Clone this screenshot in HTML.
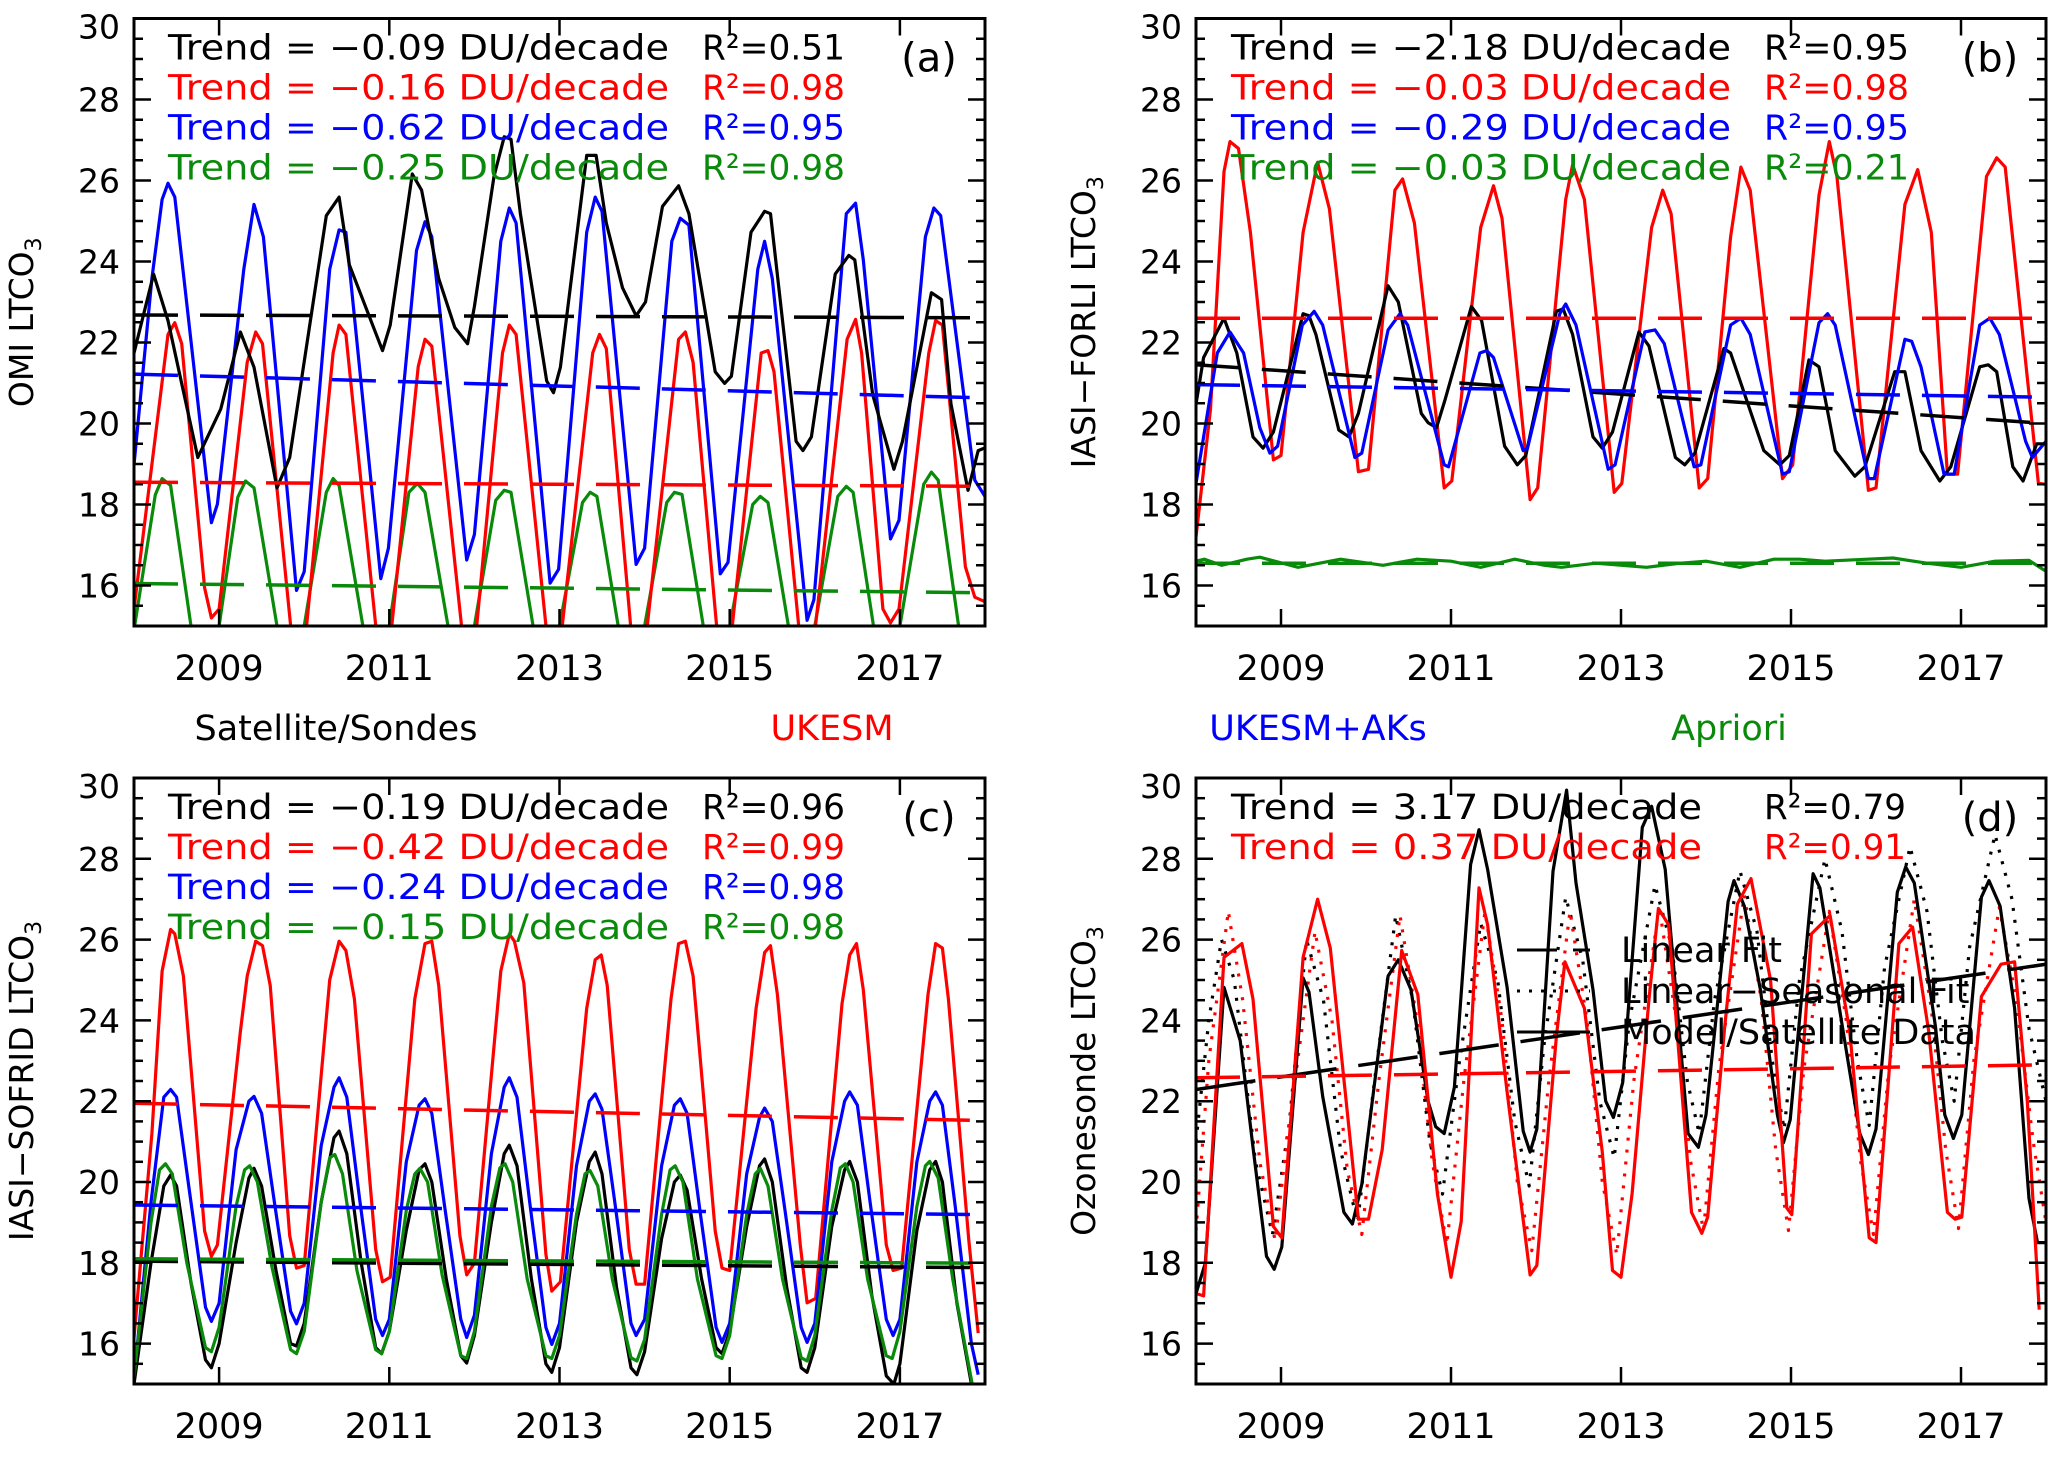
<!DOCTYPE html>
<html><head><meta charset="utf-8"><style>
html,body{margin:0;padding:0;background:#fff;}
svg{display:block;font-family:"DejaVu Sans","Liberation Sans",sans-serif;}
</style></head><body>
<svg id="fig" width="2067" height="1458" viewBox="0 0 2067 1458" xmlns="http://www.w3.org/2000/svg"></svg>
<script>
// ---------- DATA ----------
const years = [2009, 2011, 2013, 2015, 2017];
const yTicks = [16, 18, 20, 22, 24, 26, 28, 30];
// Panel (a) OMI
const aSat = [[2008.0,21.74],[2008.23,23.69],[2008.40,22.54],[2008.75,19.16],[2009.02,20.36],[2009.25,22.26],[2009.41,21.39],[2009.68,18.41],[2009.83,19.16],[2010.26,25.13],[2010.41,25.59],[2010.53,23.92],[2010.92,21.80],[2011.01,22.43],[2011.27,26.16],[2011.38,25.76],[2011.58,23.58],[2011.77,22.37],[2011.92,21.97],[2012.0,22.89],[2012.23,26.10],[2012.35,27.08],[2012.43,27.02],[2012.54,25.18],[2012.85,21.05],[2012.93,20.76],[2013.01,21.39],[2013.32,26.62],[2013.43,26.62],[2013.55,24.95],[2013.74,23.35],[2013.90,22.66],[2014.01,23.0],[2014.21,25.36],[2014.40,25.87],[2014.52,25.18],[2014.83,21.28],[2014.94,20.99],[2015.02,21.17],[2015.25,24.72],[2015.41,25.24],[2015.48,25.18],[2015.78,19.56],[2015.86,19.33],[2015.96,19.67],[2016.24,23.69],[2016.40,24.15],[2016.47,24.04],[2016.68,20.71],[2016.93,18.87],[2017.03,19.56],[2017.37,23.23],[2017.49,23.06],[2017.60,20.48],[2017.80,18.35],[2017.92,19.33],[2018.0,19.4]];
const aMod = [[2008.0,15.42],[2008.40,22.2],[2008.48,22.49],[2008.56,21.97],[2008.83,15.94],[2008.91,15.2],[2009.0,15.42],[2009.33,21.51],[2009.43,22.26],[2009.51,21.97],[2009.87,14.4],[2010.0,14.4],[2010.34,21.74],[2010.41,22.43],[2010.49,22.2],[2010.88,14.2],[2011.0,14.4],[2011.34,21.4],[2011.42,22.08],[2011.50,21.91],[2011.89,14.2],[2012.0,14.4],[2012.33,21.74],[2012.41,22.43],[2012.49,22.2],[2012.88,14.2],[2013.0,14.4],[2013.39,21.74],[2013.47,22.2],[2013.55,21.85],[2013.87,14.2],[2014.0,14.4],[2014.40,22.08],[2014.48,22.26],[2014.57,21.51],[2014.88,14.2],[2015.0,14.4],[2015.37,21.74],[2015.45,21.8],[2015.52,21.28],[2015.83,14.6],[2016.0,14.85],[2016.38,22.08],[2016.48,22.57],[2016.55,21.74],[2016.80,15.42],[2016.89,15.08],[2016.99,15.42],[2017.34,21.74],[2017.42,22.54],[2017.50,22.43],[2017.77,16.46],[2017.88,15.71],[2018.0,15.6]];
const aAK = [[2008.0,18.98],[2008.21,23.58],[2008.33,25.53],[2008.40,25.93],[2008.48,25.59],[2008.91,17.55],[2008.98,18.01],[2009.29,23.81],[2009.41,25.41],[2009.52,24.61],[2009.91,15.88],[2010.0,16.34],[2010.30,23.81],[2010.41,24.78],[2010.49,24.72],[2010.90,16.17],[2010.99,16.92],[2011.32,24.27],[2011.42,24.98],[2011.50,24.61],[2011.91,16.63],[2012.0,17.26],[2012.31,24.5],[2012.41,25.32],[2012.49,24.95],[2012.89,16.06],[2012.99,16.4],[2013.32,24.72],[2013.42,25.59],[2013.50,25.24],[2013.90,16.52],[2014.0,16.92],[2014.32,24.5],[2014.42,25.07],[2014.52,24.9],[2014.89,16.29],[2014.98,16.57],[2015.33,23.81],[2015.41,24.5],[2015.50,23.58],[2015.91,15.14],[2015.99,15.65],[2016.37,25.18],[2016.48,25.44],[2016.57,24.04],[2016.89,17.15],[2016.99,17.61],[2017.30,24.61],[2017.40,25.32],[2017.48,25.13],[2017.88,18.6],[2018.0,18.2]];
const aApr = [[2008.0,14.9],[2008.25,18.24],[2008.33,18.64],[2008.43,18.47],[2008.67,15.0],[2008.83,14.0],[2009.0,15.0],[2009.22,18.18],[2009.31,18.58],[2009.41,18.41],[2009.68,15.0],[2009.83,14.0],[2010.0,15.0],[2010.26,18.3],[2010.34,18.64],[2010.41,18.47],[2010.69,15.0],[2010.84,14.0],[2011.0,15.0],[2011.23,18.3],[2011.33,18.52],[2011.42,18.3],[2011.69,15.0],[2011.84,14.0],[2012.0,15.0],[2012.25,18.1],[2012.35,18.35],[2012.43,18.3],[2012.69,15.0],[2012.84,14.0],[2013.0,15.0],[2013.27,18.05],[2013.36,18.3],[2013.44,18.2],[2013.69,15.0],[2013.84,14.0],[2014.0,15.0],[2014.26,18.05],[2014.35,18.3],[2014.44,18.25],[2014.69,15.0],[2014.84,14.0],[2015.0,15.0],[2015.27,18.0],[2015.36,18.2],[2015.45,18.05],[2015.69,15.0],[2015.84,14.0],[2016.0,15.0],[2016.27,18.2],[2016.37,18.45],[2016.45,18.3],[2016.69,15.0],[2016.84,14.0],[2017.0,15.0],[2017.28,18.5],[2017.37,18.8],[2017.45,18.6],[2017.69,15.0],[2017.84,14.0],[2018.0,14.5]];
const aFits = [[22.68,22.61],[18.55,18.45],[21.22,20.63],[16.05,15.82]]; // sat, model, AK, apriori [start,end]

// Panel (b) IASI-FORLI
const bSat = [[2008.0,20.48],[2008.09,21.63],[2008.33,22.6],[2008.48,21.74],[2008.67,19.67],[2008.79,19.39],[2008.91,19.79],[2009.26,22.71],[2009.33,22.66],[2009.41,22.2],[2009.68,19.84],[2009.80,19.67],[2009.91,20.25],[2010.26,23.4],[2010.38,23.0],[2010.65,20.25],[2010.73,20.02],[2010.83,19.9],[2010.93,20.59],[2011.24,22.89],[2011.36,22.54],[2011.63,19.44],[2011.78,18.98],[2011.88,19.21],[2012.24,22.77],[2012.32,22.83],[2012.43,22.2],[2012.67,19.67],[2012.78,19.39],[2012.90,19.79],[2013.21,22.26],[2013.33,21.91],[2013.64,19.16],[2013.75,18.98],[2013.87,19.27],[2014.21,21.85],[2014.29,21.74],[2014.68,19.33],[2014.87,18.98],[2014.98,19.21],[2015.21,21.57],[2015.33,21.4],[2015.52,19.33],[2015.75,18.7],[2015.87,18.93],[2016.22,21.28],[2016.34,21.28],[2016.53,19.33],[2016.75,18.58],[2016.88,18.93],[2017.22,21.4],[2017.32,21.45],[2017.42,21.28],[2017.61,18.93],[2017.73,18.58],[2017.89,19.5],[2018.0,19.5]];
const bMod = [[2008.0,17.2],[2008.17,20.36],[2008.33,26.22],[2008.40,26.96],[2008.50,26.79],[2008.64,24.72],[2008.91,19.1],[2009.0,19.21],[2009.26,24.72],[2009.43,26.45],[2009.57,25.3],[2009.91,18.81],[2010.03,18.87],[2010.34,25.76],[2010.43,26.04],[2010.57,24.95],[2010.92,18.41],[2011.01,18.58],[2011.35,24.84],[2011.50,25.87],[2011.60,25.07],[2011.93,18.12],[2012.02,18.41],[2012.35,25.53],[2012.43,26.39],[2012.57,25.53],[2012.92,18.3],[2013.01,18.52],[2013.36,24.84],[2013.49,25.76],[2013.59,25.18],[2013.92,18.41],[2014.02,18.64],[2014.29,24.61],[2014.41,26.33],[2014.52,25.76],[2014.90,18.64],[2015.02,18.98],[2015.33,25.64],[2015.45,26.96],[2015.54,26.1],[2015.91,18.35],[2016.0,18.41],[2016.34,25.41],[2016.49,26.27],[2016.65,24.72],[2016.84,18.75],[2016.96,18.75],[2017.30,26.1],[2017.42,26.56],[2017.52,26.33],[2017.91,18.52],[2018.0,18.5]];
const bAK = [[2008.0,18.52],[2008.25,21.74],[2008.40,22.26],[2008.56,21.74],[2008.75,19.9],[2008.87,19.27],[2008.96,19.44],[2009.25,22.43],[2009.39,22.77],[2009.49,22.43],[2009.87,19.16],[2009.95,19.27],[2010.26,22.31],[2010.40,22.71],[2010.49,22.43],[2010.92,18.98],[2010.97,18.93],[2011.34,21.74],[2011.42,21.8],[2011.50,21.63],[2011.85,19.33],[2011.90,19.39],[2012.28,22.71],[2012.35,22.95],[2012.47,22.43],[2012.85,18.87],[2012.93,18.98],[2013.28,22.26],[2013.40,22.31],[2013.51,21.97],[2013.86,18.93],[2013.94,18.98],[2014.29,22.43],[2014.41,22.6],[2014.52,22.2],[2014.90,18.75],[2014.98,18.81],[2015.33,22.49],[2015.43,22.71],[2015.52,22.43],[2015.91,18.64],[2015.98,18.64],[2016.34,22.08],[2016.42,22.03],[2016.53,21.4],[2016.80,18.75],[2016.92,18.75],[2017.22,22.43],[2017.34,22.6],[2017.45,22.2],[2017.76,19.56],[2017.84,19.16],[2018.0,19.56]];
const bApr = [[2008.0,16.6],[2008.1,16.65],[2008.3,16.5],[2008.6,16.65],[2008.75,16.7],[2009.2,16.45],[2009.7,16.65],[2010.2,16.5],[2010.6,16.65],[2011.0,16.6],[2011.35,16.45],[2011.75,16.65],[2012.1,16.5],[2012.3,16.45],[2012.7,16.55],[2013.3,16.45],[2013.7,16.55],[2014.0,16.6],[2014.4,16.45],[2014.8,16.65],[2015.1,16.65],[2015.4,16.6],[2015.9,16.65],[2016.2,16.68],[2016.6,16.55],[2017.0,16.45],[2017.4,16.6],[2017.8,16.62],[2018.0,16.35]];
const bFits = [[21.45,20.0],[22.6,22.6],[20.96,20.65],[16.55,16.55]];

// Panel (c) IASI-SOFRID
const cSat = [[2008.0,15.0],[2008.2,18.0],[2008.35,19.9],[2008.43,20.17],[2008.5,19.9],[2008.67,17.5],[2008.84,15.6],[2008.91,15.4],[2009.0,16.0],[2009.2,18.5],[2009.35,20.1],[2009.41,20.34],[2009.5,19.9],[2009.67,17.8],[2009.84,16.0],[2009.91,15.94],[2010.0,16.5],[2010.2,19.5],[2010.35,21.1],[2010.41,21.26],[2010.5,20.7],[2010.67,18.0],[2010.84,15.9],[2010.91,15.75],[2011.0,16.3],[2011.2,18.8],[2011.35,20.3],[2011.42,20.45],[2011.5,20.0],[2011.67,17.6],[2011.84,15.7],[2011.91,15.52],[2012.0,16.2],[2012.2,19.0],[2012.35,20.7],[2012.41,20.91],[2012.5,20.4],[2012.67,17.6],[2012.84,15.5],[2012.91,15.29],[2013.0,15.9],[2013.2,19.0],[2013.35,20.5],[2013.42,20.74],[2013.5,20.2],[2013.67,17.4],[2013.84,15.4],[2013.91,15.23],[2014.0,15.8],[2014.2,18.6],[2014.35,20.0],[2014.42,20.17],[2014.5,19.8],[2014.67,17.6],[2014.84,15.9],[2014.91,15.75],[2015.0,16.3],[2015.2,18.9],[2015.35,20.4],[2015.41,20.57],[2015.5,20.0],[2015.67,17.4],[2015.84,15.4],[2015.91,15.29],[2016.0,15.9],[2016.2,18.9],[2016.35,20.3],[2016.41,20.51],[2016.5,20.0],[2016.67,17.2],[2016.84,15.2],[2016.93,15.0],[2017.0,15.5],[2017.2,18.8],[2017.35,20.3],[2017.42,20.51],[2017.5,20.0],[2017.67,17.0],[2017.84,15.0],[2017.92,14.65]];
const cMod = [[2008.0,16.15],[2008.21,21.2],[2008.33,25.22],[2008.43,26.25],[2008.48,26.14],[2008.58,25.1],[2008.83,18.79],[2008.91,18.16],[2008.98,18.44],[2009.25,23.73],[2009.33,25.1],[2009.43,25.96],[2009.51,25.85],[2009.60,24.87],[2009.83,18.67],[2009.91,17.87],[2010.0,17.93],[2010.30,25.0],[2010.41,25.96],[2010.49,25.73],[2010.59,24.53],[2010.84,18.33],[2010.92,17.53],[2011.01,17.64],[2011.30,24.53],[2011.42,25.9],[2011.50,25.96],[2011.58,24.87],[2011.83,18.67],[2011.91,17.7],[2012.0,17.99],[2012.31,25.22],[2012.41,26.14],[2012.47,25.96],[2012.58,24.93],[2012.84,18.21],[2012.91,17.3],[2013.01,17.53],[2013.32,24.3],[2013.42,25.5],[2013.49,25.62],[2013.56,24.87],[2013.82,18.33],[2013.90,17.47],[2014.0,17.47],[2014.31,24.53],[2014.40,25.9],[2014.48,25.96],[2014.57,25.1],[2014.83,18.79],[2014.91,17.87],[2015.0,17.81],[2015.31,24.3],[2015.41,25.68],[2015.48,25.85],[2015.56,24.64],[2015.83,18.44],[2015.91,17.01],[2016.01,17.12],[2016.32,24.41],[2016.41,25.62],[2016.49,25.9],[2016.57,24.76],[2016.84,18.44],[2016.92,17.81],[2017.02,17.87],[2017.33,24.64],[2017.42,25.9],[2017.50,25.79],[2017.57,24.53],[2017.81,18.56],[2017.92,16.26]];
const cAK = [[2008.0,15.1],[2008.2,19.5],[2008.35,22.1],[2008.43,22.29],[2008.5,22.1],[2008.65,19.8],[2008.84,16.9],[2008.91,16.55],[2009.0,17.0],[2009.2,20.8],[2009.35,22.0],[2009.41,22.12],[2009.5,21.7],[2009.65,19.5],[2009.84,16.8],[2009.91,16.49],[2010.0,17.0],[2010.2,20.9],[2010.35,22.35],[2010.41,22.58],[2010.5,22.1],[2010.65,19.6],[2010.84,16.6],[2010.92,16.2],[2011.0,16.6],[2011.2,20.5],[2011.35,21.9],[2011.42,22.06],[2011.5,21.7],[2011.65,19.4],[2011.84,16.6],[2011.91,16.15],[2012.0,16.7],[2012.2,20.7],[2012.35,22.35],[2012.41,22.58],[2012.5,22.1],[2012.65,19.5],[2012.84,16.4],[2012.91,15.98],[2013.0,16.5],[2013.2,20.4],[2013.35,22.0],[2013.42,22.18],[2013.5,21.8],[2013.65,19.5],[2013.84,16.5],[2013.9,16.2],[2014.0,16.6],[2014.2,20.4],[2014.35,21.9],[2014.42,22.06],[2014.5,21.7],[2014.65,19.3],[2014.84,16.4],[2014.91,16.03],[2015.0,16.5],[2015.2,20.2],[2015.35,21.6],[2015.41,21.83],[2015.5,21.5],[2015.65,19.3],[2015.84,16.4],[2015.91,16.03],[2016.0,16.5],[2016.2,20.5],[2016.35,22.0],[2016.41,22.23],[2016.5,21.9],[2016.65,19.5],[2016.84,16.6],[2016.92,16.2],[2017.0,16.6],[2017.2,20.5],[2017.35,22.0],[2017.42,22.23],[2017.5,21.9],[2017.65,19.4],[2017.84,16.0],[2017.92,15.23]];
const cApr = [[2008.0,15.17],[2008.2,19.0],[2008.3,20.3],[2008.37,20.45],[2008.45,20.2],[2008.62,18.0],[2008.84,15.9],[2008.91,15.8],[2009.0,16.4],[2009.2,19.4],[2009.3,20.3],[2009.36,20.4],[2009.45,20.0],[2009.62,17.9],[2009.84,15.85],[2009.91,15.75],[2010.0,16.3],[2010.2,19.5],[2010.3,20.6],[2010.36,20.68],[2010.45,20.2],[2010.62,17.8],[2010.84,15.85],[2010.91,15.75],[2011.0,16.3],[2011.2,19.3],[2011.3,20.2],[2011.36,20.34],[2011.45,20.0],[2011.62,17.7],[2011.84,15.7],[2011.91,15.63],[2012.0,16.3],[2012.2,19.4],[2012.3,20.35],[2012.36,20.45],[2012.45,20.0],[2012.62,17.6],[2012.84,15.7],[2012.91,15.63],[2013.0,16.2],[2013.2,19.2],[2013.3,20.2],[2013.36,20.28],[2013.45,19.9],[2013.62,17.6],[2013.84,15.65],[2013.91,15.57],[2014.0,16.1],[2014.2,19.2],[2014.3,20.3],[2014.36,20.4],[2014.45,20.0],[2014.62,17.6],[2014.84,15.7],[2014.91,15.63],[2015.0,16.2],[2015.2,19.2],[2015.3,20.2],[2015.36,20.34],[2015.45,19.9],[2015.62,17.6],[2015.84,15.65],[2015.91,15.57],[2016.0,16.2],[2016.2,19.3],[2016.3,20.35],[2016.36,20.45],[2016.45,20.0],[2016.62,17.6],[2016.84,15.7],[2016.91,15.63],[2017.0,16.3],[2017.2,19.4],[2017.3,20.4],[2017.35,20.51],[2017.45,20.1],[2017.62,17.6],[2017.85,15.0],[2017.92,14.6]];
const cFits = [[18.04,17.88],[21.95,21.52],[19.43,19.19],[18.1,17.99]];

// Panel (d) Ozonesonde
const dSat = [[2008.0,17.24],[2008.11,17.99],[2008.33,24.82],[2008.52,23.5],[2008.67,20.86],[2008.83,18.16],[2008.92,17.84],[2009.01,18.39],[2009.26,25.05],[2009.33,24.7],[2009.49,22.12],[2009.74,19.25],[2009.84,18.96],[2009.95,19.94],[2010.26,25.1],[2010.38,25.5],[2010.53,24.76],[2010.73,22.0],[2010.82,21.37],[2010.92,21.2],[2011.04,22.35],[2011.23,27.86],[2011.33,28.72],[2011.43,27.74],[2011.66,24.82],[2011.85,21.26],[2011.93,20.74],[2012.01,21.31],[2012.20,27.69],[2012.36,29.7],[2012.47,27.4],[2012.67,24.76],[2012.82,22.0],[2012.91,21.6],[2013.02,22.46],[2013.25,28.78],[2013.36,29.3],[2013.52,27.74],[2013.79,21.2],[2013.91,20.86],[2014.0,21.66],[2014.26,26.94],[2014.33,27.46],[2014.45,26.83],[2014.64,24.76],[2014.84,21.66],[2014.91,20.97],[2014.99,21.54],[2015.26,27.63],[2015.34,27.28],[2015.57,24.3],[2015.81,21.2],[2015.91,20.68],[2016.0,21.31],[2016.25,27.17],[2016.35,27.8],[2016.45,27.4],[2016.70,23.84],[2016.81,21.66],[2016.91,21.08],[2017.01,21.66],[2017.24,27.05],[2017.33,27.46],[2017.46,26.83],[2017.63,24.3],[2017.80,19.59],[2017.90,18.5],[2018.0,18.5]];
const dSatSeas = [[2008.0,21.0],[2008.15,24.0],[2008.3,26.0],[2008.45,25.0],[2008.7,20.5],[2008.9,18.7],[2009.1,21.5],[2009.3,26.0],[2009.5,24.5],[2009.7,20.8],[2009.9,19.0],[2010.1,22.5],[2010.35,26.6],[2010.55,24.5],[2010.75,21.0],[2010.9,19.7],[2011.1,23.0],[2011.35,26.4],[2011.55,25.0],[2011.75,21.5],[2011.92,19.9],[2012.1,23.5],[2012.35,27.05],[2012.55,25.5],[2012.75,22.0],[2012.92,20.6],[2013.1,24.0],[2013.4,27.35],[2013.6,25.8],[2013.78,22.5],[2013.92,21.2],[2014.1,24.5],[2014.4,27.7],[2014.6,26.2],[2014.78,23.0],[2014.92,21.3],[2015.1,25.0],[2015.4,28.0],[2015.6,26.2],[2015.78,23.0],[2015.92,21.4],[2016.1,25.3],[2016.4,28.3],[2016.6,26.7],[2016.78,23.5],[2016.92,22.0],[2017.1,25.8],[2017.4,28.6],[2017.6,27.0],[2017.8,23.8],[2018.0,22.0]];
const dMod = [[2008.0,17.24],[2008.09,17.18],[2008.33,25.56],[2008.54,25.9],[2008.67,24.53],[2008.91,18.9],[2009.01,18.62],[2009.26,25.56],[2009.43,27.0],[2009.58,25.79],[2009.91,19.08],[2010.03,19.08],[2010.19,20.8],[2010.42,25.73],[2010.61,24.64],[2010.84,19.71],[2011.0,17.64],[2011.12,19.02],[2011.33,27.28],[2011.43,26.37],[2011.66,22.23],[2011.93,17.7],[2012.01,17.93],[2012.24,23.61],[2012.34,25.45],[2012.57,24.3],[2012.78,20.74],[2012.90,17.81],[2013.0,17.64],[2013.13,19.71],[2013.33,24.53],[2013.44,26.77],[2013.56,26.37],[2013.83,19.25],[2013.95,18.73],[2014.02,19.13],[2014.22,23.84],[2014.37,26.88],[2014.53,27.51],[2014.76,24.99],[2014.95,19.36],[2015.01,19.19],[2015.24,26.14],[2015.46,26.6],[2015.69,23.73],[2015.92,18.62],[2016.0,18.5],[2016.27,25.9],[2016.43,26.31],[2016.62,23.73],[2016.84,19.25],[2016.93,19.08],[2017.01,19.13],[2017.24,24.59],[2017.47,25.39],[2017.63,25.45],[2017.78,22.0],[2017.92,16.84]];
const dModSeas = [[2008.0,18.8],[2008.15,23.0],[2008.38,26.7],[2008.55,24.5],[2008.75,20.5],[2008.93,18.55],[2009.1,21.5],[2009.4,26.2],[2009.6,24.0],[2009.78,20.3],[2009.95,18.7],[2010.15,22.5],[2010.4,26.6],[2010.6,24.0],[2010.78,20.5],[2010.95,18.45],[2011.15,22.5],[2011.4,26.7],[2011.6,24.0],[2011.78,20.0],[2011.95,18.3],[2012.15,22.5],[2012.4,26.7],[2012.6,24.0],[2012.78,20.0],[2012.95,18.2],[2013.15,22.5],[2013.45,26.8],[2013.65,24.0],[2013.82,20.5],[2013.97,18.8],[2014.15,22.8],[2014.45,27.1],[2014.65,24.5],[2014.82,20.8],[2014.97,18.8],[2015.15,22.8],[2015.45,26.7],[2015.65,24.0],[2015.82,20.5],[2015.97,18.7],[2016.15,22.8],[2016.45,27.0],[2016.65,24.3],[2016.82,20.8],[2016.97,18.85],[2017.15,23.0],[2017.45,26.8],[2017.65,24.5],[2017.85,21.0],[2018.0,19.0]];
const dFits = [[22.29,25.39],[22.58,22.9]];

const aTrends = [["Trend = −0.09 DU/decade","R²=0.51"],["Trend = −0.16 DU/decade","R²=0.98"],["Trend = −0.62 DU/decade","R²=0.95"],["Trend = −0.25 DU/decade","R²=0.98"]];
const bTrends = [["Trend = −2.18 DU/decade","R²=0.95"],["Trend = −0.03 DU/decade","R²=0.98"],["Trend = −0.29 DU/decade","R²=0.95"],["Trend = −0.03 DU/decade","R²=0.21"]];
const cTrends = [["Trend = −0.19 DU/decade","R²=0.96"],["Trend = −0.42 DU/decade","R²=0.99"],["Trend = −0.24 DU/decade","R²=0.98"],["Trend = −0.15 DU/decade","R²=0.98"]];
const dTrends = [["Trend = 3.17 DU/decade","R²=0.79"],["Trend = 0.37 DU/decade","R²=0.91"]];

// ---------- DRAWING ----------
const NS = "http://www.w3.org/2000/svg";
const svg = document.getElementById('fig');
const COL = {k:'#000000', r:'#ff0000', b:'#0000ff', g:'#0a8a0a'};
const X0 = 2008, X1 = 2018, Y0 = 15, Y1 = 30;
function mk(tag, attrs, parent) {
  const e = document.createElementNS(NS, tag);
  for (const k in attrs) e.setAttribute(k, attrs[k]);
  (parent || svg).appendChild(e);
  return e;
}
function xs(P, t) { return P.x0 + (t - X0) / (X1 - X0) * (P.x1 - P.x0); }
function ys(P, v) { return P.y1 - (v - Y0) / (Y1 - Y0) * (P.y1 - P.y0); }

function panel(P) {
  const g = mk('g', {});
  
  
  const cp = mk('clipPath', {id: 'clip-' + P.id}, g);
  mk('rect', {x: P.x0, y: P.y0, width: P.x1 - P.x0, height: P.y1 - P.y0}, cp);
  const plot = mk('g', {'clip-path': 'url(#clip-' + P.id + ')'}, g);
  P.g = g; P.plot = plot;
  // frame
  const fr = mk('rect', {x: P.x0, y: P.y0, width: P.x1 - P.x0, height: P.y1 - P.y0, fill: 'none', stroke: '#000', 'stroke-width': 3}, g);
  
  
  // y ticks
  for (let v = Y0 + 0.5; v < Y1; v += 0.5) {
    const y = ys(P, v);
    const major = yTicks.indexOf(v) >= 0;
    const L = major ? 17 : 9;
    mk('line', {x1: P.x0, x2: P.x0 + L, y1: y, y2: y, stroke: '#000', 'stroke-width': 2.5}, g);
    mk('line', {x1: P.x1, x2: P.x1 - L, y1: y, y2: y, stroke: '#000', 'stroke-width': 2.5}, g);
  }
  yTicks.forEach(v => {
    let y = ys(P, v) + 12;
    if (v === 30) y += 8;
    const t = mk('text', {x: P.x0 - 14, y: y, 'text-anchor': 'end', 'font-size': 33, fill: '#000'}, g);
    t.textContent = v;
    
    
  });
  years.forEach(yr => {
    const x = xs(P, yr);
    mk('line', {x1: x, x2: x, y1: P.y1, y2: P.y1 - 17, stroke: '#000', 'stroke-width': 2.5}, g);
    mk('line', {x1: x, x2: x, y1: P.y0, y2: P.y0 + 17, stroke: '#000', 'stroke-width': 2.5}, g);
    const t = mk('text', {x: x, y: P.y1 + 54, 'text-anchor': 'middle', 'font-size': 35, fill: '#000'}, g);
    t.textContent = yr;
    
    
  });
  // y title
  const cx = P.x0 - 101, cy = (P.y0 + P.y1) / 2;
  const tt = mk('text', {x: cx, y: cy, 'text-anchor': 'middle', 'font-size': 33, fill: '#000', transform: 'rotate(-90 ' + cx + ' ' + cy + ')'}, g);
  tt.appendChild(document.createTextNode(P.title));
  const sub = mk('tspan', {'font-size': 22, dy: 8}, tt);
  sub.textContent = '3';
  
  
  // panel letter
  const lt = mk('text', {x: P.x1 - 56, y: P.y0 + 53, 'text-anchor': 'middle', 'font-size': 40, fill: '#000'}, g);
  lt.textContent = '(' + P.id + ')';
  
  
}
function series(P, data, color, name, dash) {
  const pts = data.map(d => xs(P, d[0]).toFixed(1) + ',' + ys(P, d[1]).toFixed(1)).join(' ');
  const a = {points: pts, fill: 'none', stroke: color, 'stroke-width': 3.2, 'stroke-linejoin': 'round'};
  if (dash) { a['stroke-dasharray'] = dash; }
  const pl = mk('polyline', a, P.plot);
  
  
}
function fit(P, ends, color, name, dash) {
  const l = mk('line', {x1: xs(P, X0), y1: ys(P, ends[0]), x2: xs(P, X1), y2: ys(P, ends[1]), stroke: color, 'stroke-width': 3.5, 'stroke-dasharray': dash || '44,22'}, P.plot);
  
  
}
function trends(P, rows, colors, x1, x2, x3, x4) {
  rows.forEach((r, i) => {
    const y = P.y0 + 41 + i * 40;
    const t1 = mk('text', {x: x1, y: y, 'font-size': 35, fill: colors[i], textLength: x2 - x1, lengthAdjust: 'spacingAndGlyphs'}, P.g);
    t1.textContent = r[0];
    
    
    const t2 = mk('text', {x: x3, y: y, 'font-size': 35, fill: colors[i], textLength: x4 - x3, lengthAdjust: 'spacingAndGlyphs'}, P.g);
    t2.textContent = r[1];
    
    
  });
}

const A = {id: 'a', x0: 134, x1: 985, y0: 18.5, y1: 626, title: 'OMI LTCO'};
const B = {id: 'b', x0: 1196, x1: 2046, y0: 18.5, y1: 626, title: 'IASI−FORLI LTCO'};
const C = {id: 'c', x0: 134, x1: 985, y0: 778, y1: 1384, title: 'IASI−SOFRID LTCO'};
const D = {id: 'd', x0: 1196, x1: 2046, y0: 778, y1: 1384, title: 'Ozonesonde LTCO'};
[A, B, C, D].forEach(panel);
A.x0; // keep
const cols4 = [COL.k, COL.r, COL.b, COL.g];

// (a)
series(A, aApr, COL.g, 'apriori-line'); series(A, aMod, COL.r, 'ukesm-line'); series(A, aAK, COL.b, 'ukesm-ak-line'); series(A, aSat, COL.k, 'satellite-line');
fit(A, aFits[0], COL.k, 'satellite-trend'); fit(A, aFits[1], COL.r, 'ukesm-trend'); fit(A, aFits[2], COL.b, 'ukesm-ak-trend'); fit(A, aFits[3], COL.g, 'apriori-trend');
trends(A, aTrends, cols4, 168, 669, 702, 845);
// (b)
series(B, bApr, COL.g, 'apriori-line'); series(B, bMod, COL.r, 'ukesm-line'); series(B, bSat, COL.k, 'satellite-line'); series(B, bAK, COL.b, 'ukesm-ak-line');
fit(B, bFits[0], COL.k, 'satellite-trend'); fit(B, bFits[1], COL.r, 'ukesm-trend'); fit(B, bFits[2], COL.b, 'ukesm-ak-trend'); fit(B, bFits[3], COL.g, 'apriori-trend');
trends(B, bTrends, cols4, 1231, 1731, 1764, 1909);
// (c)
series(C, cMod, COL.r, 'ukesm-line'); series(C, cAK, COL.b, 'ukesm-ak-line'); series(C, cSat, COL.k, 'satellite-line'); series(C, cApr, COL.g, 'apriori-line');
fit(C, cFits[0], COL.k, 'satellite-trend'); fit(C, cFits[1], COL.r, 'ukesm-trend'); fit(C, cFits[2], COL.b, 'ukesm-ak-trend'); fit(C, cFits[3], COL.g, 'apriori-trend');
trends(C, cTrends, cols4, 168, 669, 702, 845);
// (d)
series(D, dSatSeas, COL.k, 'sonde-seasonal-fit', '3,9'); series(D, dModSeas, COL.r, 'model-seasonal-fit', '3,9');
series(D, dSat, COL.k, 'sonde-line'); series(D, dMod, COL.r, 'model-line');
fit(D, dFits[0], COL.k, 'sonde-linear-fit', '60,22'); fit(D, dFits[1], COL.r, 'model-linear-fit', '44,22');
trends(D, dTrends, [COL.k, COL.r], 1231, 1702, 1764, 1906);
// (d) legend
const legRows = [['Linear Fit', '40,16'], ['Linear−Seasonal Fit', '3,9'], ['Model/Satellite Data', null]];
legRows.forEach((r, i) => {
  const y = 950 + i * 41;
  const la = {x1: 1517, x2: 1590, y1: y, y2: y, stroke: '#000', 'stroke-width': 3};
  if (r[1]) la['stroke-dasharray'] = r[1];
  const ln = mk('line', la, D.g);
  
  
  const t = mk('text', {x: 1621, y: y + 12, 'font-size': 35, fill: '#000'}, D.g);
  t.textContent = r[0];
  
  
});
// global legend row
const legendNames = ['Satellite/Sondes', 'UKESM', 'UKESM+AKs', 'Apriori'];
const legendCols = [COL.k, COL.r, COL.b, COL.g];
const legendX = [336, 832, 1318, 1729];
legendNames.forEach((n, i) => {
  const t = mk('text', {x: legendX[i], y: 740, 'text-anchor': 'middle', 'font-size': 35, fill: legendCols[i]});
  t.textContent = n;
  
  
});
</script>
</body></html>
